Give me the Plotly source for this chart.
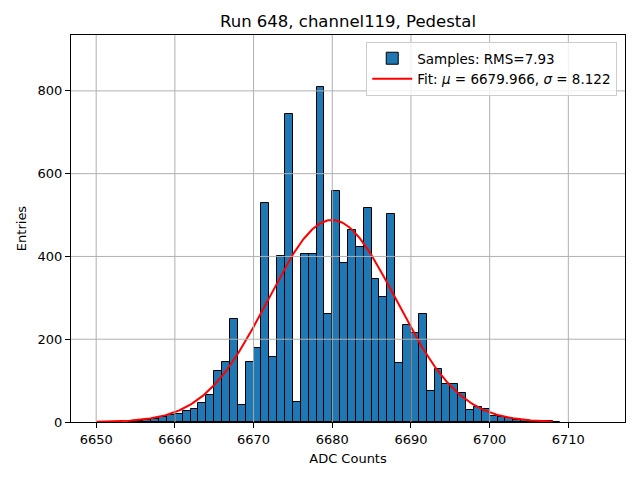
import numpy as np
import plotly.graph_objects as go

# histogram of pedestal samples, 1 ADC count per bin
bin_left = list(range(6650, 6714))
counts = [0, 0, 0, 0, 1, 2, 4, 8, 12, 16,
          19, 27, 32, 45, 66, 123, 146, 250, 40, 146,
          180, 529, 157, 401, 744, 49, 407, 407, 810, 260,
          557, 385, 465, 422, 516, 345, 301, 502, 142, 234,
          214, 260, 75, 127, 93, 93, 69, 29, 36, 31,
          14, 12, 9, 6, 5, 3, 3, 2, 1, 0,
          0, 0, 0, 0]

# gaussian fit
fit_mu = 6679.966
fit_sigma = 8.122
fit_amp = 488.0
fit_lo, fit_hi = 6650, 6708
rms = 7.93

x_ticks = [6650, 6660, 6670, 6680, 6690, 6700, 6710]
y_ticks = [0, 200, 400, 600, 800]

# skip empty bins so no edge line is drawn on the baseline
centers = [b + 0.5 for b, c in zip(bin_left, counts) if c > 0]
heights = [c for c in counts if c > 0]
xf = np.linspace(fit_lo, fit_hi, 300)
yf = fit_amp * np.exp(-0.5 * ((xf - fit_mu) / fit_sigma) ** 2)

fig = go.Figure()
fig.add_trace(go.Bar(x=centers, y=heights, width=1.0,
                     marker=dict(color="#1f77b4", line=dict(color="black", width=1)),
                     name="Samples: RMS=%.2f" % rms))
fig.add_trace(go.Scatter(x=xf, y=yf, mode="lines",
                         line=dict(color="red", width=2),
                         name="Fit: <i>μ</i> = %.3f, <i>σ</i> = %.3f" % (fit_mu, fit_sigma)))

grid = dict(color="#b0b0b0", width=1)
shapes = []
for t in x_ticks:
    shapes.append(dict(type="line", xref="x", yref="paper", x0=t, x1=t, y0=0, y1=1,
                       line=grid, layer="above"))
for t in y_ticks[1:]:
    shapes.append(dict(type="line", xref="paper", yref="y", x0=0, x1=1, y0=t, y1=t,
                       line=grid, layer="above"))

# page body has an 8px margin, so the margins are shifted to compensate
fig.update_layout(
    width=640, height=480,
    margin=dict(l=63, r=23, t=27, b=66, autoexpand=False),
    plot_bgcolor="white", paper_bgcolor="white",
    font=dict(family="DejaVu Sans", size=13, color="black"),
    title=dict(text="Run 648, channel119, Pedestal", x=0.5, xref="paper", xanchor="center",
               y=0.973, yanchor="middle", font=dict(size=16.5)),
    bargap=0,
    shapes=shapes,
    legend=dict(x=0.986, y=0.982, xanchor="right", yanchor="top",
                bgcolor="rgba(255,255,255,0.8)", bordercolor="#cccccc", borderwidth=1,
                font=dict(size=13.5), itemwidth=40, tracegroupgap=4),
)
fig.update_xaxes(range=[6646.8, 6717.2], tickvals=x_ticks, showgrid=False,
                 showline=True, mirror=True, linecolor="black", linewidth=1,
                 ticks="outside", ticklen=5, tickcolor="black", automargin=False,
                 title=dict(text="ADC Counts", font=dict(size=13), standoff=8), zeroline=False)
fig.update_yaxes(range=[0, 935], tickvals=y_ticks, showgrid=False,
                 showline=True, mirror=True, linecolor="black", linewidth=1,
                 ticks="outside", ticklen=5, tickcolor="black", automargin=False,
                 title=dict(text="Entries", font=dict(size=13), standoff=8), zeroline=False)

fig.write_html("out.html")
